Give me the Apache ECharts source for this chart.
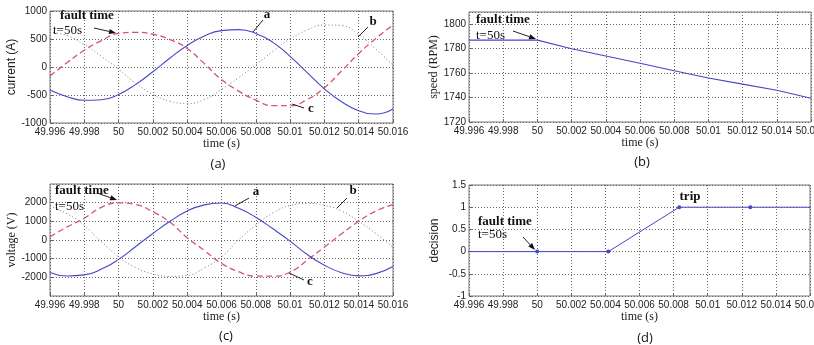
<!DOCTYPE html>
<html>
<head>
<meta charset="utf-8">
<script src="https://cdn.jsdelivr.net/npm/echarts@6/dist/echarts.min.js"></script>
<style>
  html, body { margin: 0; padding: 0; background: #fff; }
  #chart { width: 814px; height: 345px; }
</style>
</head>
<body>
<div id="chart"></div>
<script>
// sample times (s), every 1 ms
const time = [49.996, 49.997, 49.998, 49.999, 50.000, 50.001, 50.002, 50.003, 50.004, 50.005, 50.006,
  50.007, 50.008, 50.009, 50.010, 50.011, 50.012, 50.013, 50.014, 50.015, 50.016];

// (a) phase currents (A)
const currentA = [-410, -530, -595, -585, -490, -310, -85, 160, 385, 555, 650, 668, 600, 440, 190, -100, -390, -620, -780, -840, -750];
const currentB = [620, 560, 400, 190, -40, -290, -490, -610, -650, -580, -400, -190, 40, 280, 500, 660, 750, 740, 580, 320, 30];
const currentC = [-160, 80, 300, 470, 600, 620, 585, 490, 330, 60, -225, -430, -590, -690, -690, -580, -370, -70, 240, 510, 750];

// (b) rotor speed (RPM)
const speedTime = [49.996, 49.998, 50.000, 50.002, 50.004, 50.006, 50.008, 50.010, 50.012, 50.014, 50.016];
const speed = [1787, 1787, 1787, 1780, 1774, 1768, 1762, 1756, 1751, 1746, 1739.5];

// (c) phase voltages (V)
const voltageA = [-1740, -1930, -1870, -1560, -1040, -350, 350, 1000, 1560, 1880, 1980, 1700, 1220, 600, -60, -780, -1350, -1750, -1920, -1800, -1420];
const voltageB = [1800, 1400, 780, -100, -900, -1480, -1820, -1950, -1900, -1500, -900, 0, 800, 1450, 1850, 1960, 1850, 1550, 1000, 350, -400];
const voltageC = [175, 700, 1165, 1750, 1990, 1900, 1510, 950, 120, -560, -1250, -1700, -1940, -1940, -1720, -1080, -380, 330, 1000, 1550, 1900];

// (d) relay decision
const decisionTime = [49.99583, 50.00000, 50.00417, 50.00833, 50.01250, 50.01667];
const decision = [0, 0, 0, 1, 1, 1];

const pair = (xs, ys) => xs.map((x, i) => [x, ys[i]]);

const BLUE = '#4646c8';
const RED = '#d9536b';
const GREY = '#7a7a7a';
const SANS = '"Liberation Sans", Arial, sans-serif';
const SERIF = '"Liberation Serif", "Times New Roman", serif';

const chart = echarts.init(document.getElementById('chart'));

const grids = [
  { left: 50, top: 11, width: 343, height: 112 },
  { left: 469, top: 12, width: 342, height: 110 },
  { left: 50, top: 184, width: 343, height: 112 },
  { left: 469, top: 185, width: 341, height: 111 }
].map(g => Object.assign(g, {
  show: true, borderColor: '#777', borderWidth: 1, backgroundColor: '#fff',
  containLabel: false, outerBoundsMode: 'none'
}));

const gridLine = { show: true, lineStyle: { type: [1, 2], color: '#666', width: 1 } };
const plain = v => String(v);

const xAxes = [0, 1, 2, 3].map(i => ({
  type: 'value',
  gridIndex: i,
  min: 49.996,
  max: 50.016,
  interval: 0.002,
  axisLine: { show: false, onZero: false },
  axisTick: { show: true, inside: true, length: 3, lineStyle: { color: '#666' } },
  axisLabel: { fontSize: 10, color: '#222', margin: 4, fontFamily: SANS, hideOverlap: false },
  splitLine: gridLine,
  name: 'time (s)',
  nameLocation: 'middle',
  nameGap: 15,
  nameTextStyle: { fontSize: 12, color: '#222', fontFamily: SERIF }
}));

function yAxis(i, opts, labelOpts) {
  return Object.assign({
    type: 'value',
    gridIndex: i,
    axisLine: { show: false, onZero: false },
    axisTick: { show: true, inside: true, length: 3, lineStyle: { color: '#666' } },
    axisLabel: Object.assign({ fontSize: 10, color: '#222', margin: 3, fontFamily: SANS, formatter: plain }, labelOpts),
    splitLine: gridLine,
    nameLocation: 'middle'
  }, opts);
}

const yAxes = [
  yAxis(0, { min: -1000, max: 1000, interval: 500, name: 'current (A)', nameGap: 31,
    nameTextStyle: { fontSize: 12, color: '#222', fontFamily: SANS } }),
  yAxis(1, { min: 1720, max: 1810, interval: 20, name: 'speed (RPM)', nameGap: 25,
    nameTextStyle: { fontSize: 12, color: '#222', fontFamily: SERIF } }, { showMaxLabel: false }),
  yAxis(2, { min: -3000, max: 3000, interval: 1000, name: 'voltage (V)', nameGap: 31,
    nameTextStyle: { fontSize: 12, color: '#222', fontFamily: SERIF } }, { showMaxLabel: false, showMinLabel: false }),
  yAxis(3, { min: -1, max: 1.5, interval: 0.5, name: 'decision', nameGap: 28,
    nameTextStyle: { fontSize: 12, color: '#222', fontFamily: SANS } })
];

function wave(name, grid, values, color, type, width) {
  return {
    name, type: 'line', xAxisIndex: grid, yAxisIndex: grid,
    data: pair(time, values), showSymbol: false, smooth: 0.5,
    lineStyle: { color, type, width }, z: 3
  };
}

const series = [
  wave('b', 0, currentB, GREY, [1, 2.5], 1),
  wave('c', 0, currentC, RED, [6, 3.5], 1.3),
  wave('a', 0, currentA, BLUE, 'solid', 1.1),
  {
    name: 'speed', type: 'line', xAxisIndex: 1, yAxisIndex: 1,
    data: pair(speedTime, speed), showSymbol: false,
    lineStyle: { color: BLUE, width: 1.1 }
  },
  wave('b', 2, voltageB, GREY, [1, 2.5], 1),
  wave('c', 2, voltageC, RED, [6, 3.5], 1.3),
  wave('a', 2, voltageA, BLUE, 'solid', 1.1),
  {
    name: 'decision', type: 'line', xAxisIndex: 3, yAxisIndex: 3,
    data: pair(decisionTime, decision), showSymbol: true, symbol: 'circle', symbolSize: 4,
    itemStyle: { color: BLUE }, lineStyle: { color: BLUE, width: 1 }, clip: true
  }
];

// annotation helpers
function label(x, y, text, bold, align, font) {
  return {
    type: 'text', x, y, z: 100,
    style: {
      text, fill: '#111', align: align || 'left', verticalAlign: 'middle',
      font: (bold ? 'bold ' : '') + (font || ('13px ' + SERIF))
    }
  };
}
function pointer(x1, y1, x2, y2) {
  return { type: 'line', z: 100, shape: { x1, y1, x2, y2 }, style: { stroke: '#222', lineWidth: 1 } };
}
function arrow(x1, y1, x2, y2) {
  const a = Math.atan2(y2 - y1, x2 - x1), L = 7, W = 2.6;
  const bx = x2 - L * Math.cos(a), by = y2 - L * Math.sin(a);
  return [
    pointer(x1, y1, bx, by),
    { type: 'polygon', z: 100, shape: { points: [[x2, y2],
      [bx + W * Math.sin(a), by - W * Math.cos(a)], [bx - W * Math.sin(a), by + W * Math.cos(a)]] },
      style: { fill: '#111' } }
  ];
}

const graphic = [
  // (a)
  label(60, 16, 'fault time', true), label(53, 31, 't=50s'), ...arrow(94, 28, 116, 33),
  label(267, 15, 'a', true, 'center'), pointer(263, 20, 253, 32),
  label(373, 22, 'b', true, 'center'), pointer(368, 27, 358, 37),
  label(311, 109, 'c', true, 'center'), pointer(304, 108, 292, 104),
  // (b)
  label(476, 19.5, 'fault time', true), label(476, 35.5, 't=50s'), ...arrow(513, 31, 536, 39),
  // (c)
  label(55, 191, 'fault time', true), label(55, 207, 't=50s'), ...arrow(97, 193, 117, 200),
  label(256, 192, 'a', true, 'center'), pointer(249, 198, 235, 206),
  label(353, 191, 'b', true, 'center'), pointer(347, 198, 337, 208),
  label(310, 282, 'c', true, 'center'), pointer(304, 280, 289, 273),
  // (d)
  label(690, 197, 'trip', true, 'center'),
  label(478, 222, 'fault time', true), label(478, 235, 't=50s'), ...arrow(523, 237, 535, 250),
  // captions
  label(218, 164, '(a)', false, 'center', '13px "Open Sans", sans-serif'),
  label(642, 162, '(b)', false, 'center', '13px "Open Sans", sans-serif'),
  label(226, 336, '(c)', false, 'center', '13px "Open Sans", sans-serif'),
  label(645, 338, '(d)', false, 'center', '13px "Open Sans", sans-serif')
];

chart.setOption({
  animation: false,
  backgroundColor: '#fff',
  grid: grids,
  xAxis: xAxes,
  yAxis: yAxes,
  series,
  graphic
});
</script>
</body>
</html>
